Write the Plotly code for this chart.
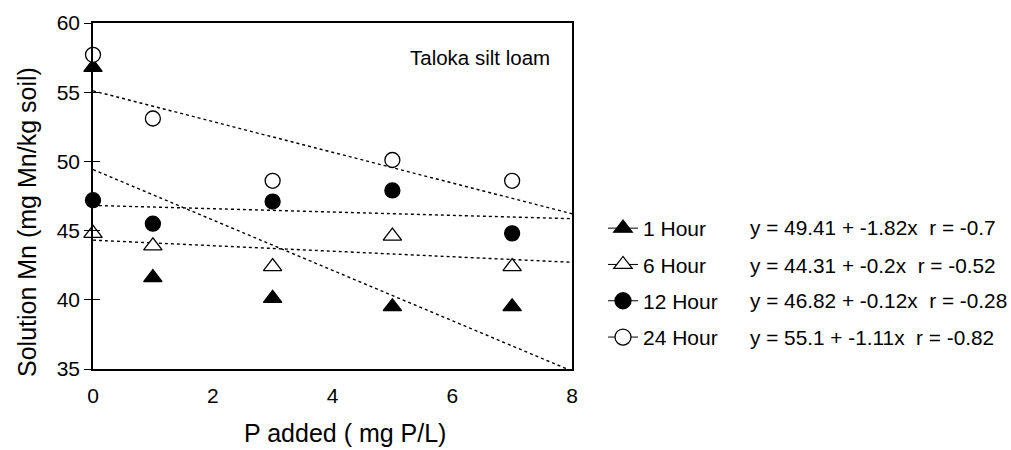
import plotly.graph_objects as go

# Phosphorus added (mg P/L)
p_added = [0, 1, 3, 5, 7]

# Solution Mn (mg Mn/kg soil) at each equilibration time
series_names = ["1 Hour", "6 Hour", "12 Hour", "24 Hour"]
mn_1h = [56.8, 41.6, 40.1, 39.5, 39.5]
mn_6h = [44.8, 43.9, 42.4, 44.6, 42.4]
mn_12h = [47.2, 45.5, 47.1, 47.9, 44.8]
mn_24h = [57.7, 53.1, 48.6, 50.1, 48.6]
series_values = [mn_1h, mn_6h, mn_12h, mn_24h]

# Linear fits y = a + b*x with correlation r
intercepts = [49.41, 44.31, 46.82, 55.1]
slopes = [-1.82, -0.2, -0.12, -1.11]
r_values = [-0.7, -0.52, -0.28, -0.82]

x_range = [0, 8]
y_range = [35, 60]
x_ticks = [0, 2, 4, 6, 8]
y_ticks = [35, 40, 45, 50, 55, 60]

FONT = "Arial, Liberation Sans, Helvetica, sans-serif"
W, H = 1011, 450
ML, MR, MT, MB = 93, 439, 23, 81
PW, PH = W - ML - MR, H - MT - MB

symbols = ["triangle-up", "triangle-up", "circle", "circle"]
fills = ["black", "white", "black", "white"]
sizes = [16, 16, 15, 15]


def px_to_paper(px, py):
    return (px - ML) / PW, (H - MB - py) / PH


fig = go.Figure()

# dotted regression lines across the full x range
for a, b in zip(intercepts, slopes):
    fig.add_trace(go.Scatter(
        x=x_range, y=[a + b * x for x in x_range],
        mode="lines", line=dict(color="black", width=1.4, dash="dot"),
        showlegend=False, hoverinfo="skip",
    ))

# measured points
for name, vals, sym, fill, sz in zip(series_names, series_values, symbols, fills, sizes):
    fig.add_trace(go.Scatter(
        x=p_added, y=vals, mode="markers", name=name, showlegend=False,
        cliponaxis=False,
        marker=dict(symbol=sym, size=sz, color=fill, line=dict(color="black", width=1.3)),
    ))

# legend entries: short line through the symbol
for i, (name, sym, fill) in enumerate(zip(series_names, symbols, fills)):
    fig.add_trace(go.Scatter(
        x=[None], y=[None], mode="lines+markers", name=name,
        legendgroup=f"g{i}",
        line=dict(color="black", width=1),
        marker=dict(symbol=sym, size=16, color=fill, line=dict(color="black", width=1.3)),
    ))

# overlay axis that supplies the inner half of the crossing y ticks
fig.add_trace(go.Scatter(x=[None], y=[None], yaxis="y2", showlegend=False, hoverinfo="skip"))

annotations = []

# fit equations beside the legend rows
row_y = [228, 265, 300, 337]
for a, b, r, py in zip(intercepts, slopes, r_values, row_y):
    text = f"y = {a:g} + {b:g}x\u00a0 r = {r:g}"
    xp, yp = px_to_paper(748, py)
    annotations.append(dict(
        x=xp, y=yp, xref="paper", yref="paper", text=text, showarrow=False,
        xanchor="left", yanchor="middle", font=dict(family=FONT, size=20.8, color="black"),
    ))

# soil label
annotations.append(dict(
    x=7.66, y=57.5, xref="x", yref="y", text="Taloka silt loam", showarrow=False,
    xanchor="right", yanchor="middle", font=dict(family=FONT, size=20.5, color="black"),
))

# axis titles
xp, yp = px_to_paper(345, 433)
annotations.append(dict(
    x=xp, y=yp, xref="paper", yref="paper", text="P added ( mg P/L)", showarrow=False,
    xanchor="center", yanchor="middle", font=dict(family=FONT, size=25, color="black"),
))
xp, yp = px_to_paper(27, 222)
annotations.append(dict(
    x=xp, y=yp, xref="paper", yref="paper", text="Solution Mn (mg Mn/kg soil)",
    showarrow=False, textangle=-90,
    xanchor="center", yanchor="middle", font=dict(family=FONT, size=25, color="black"),
))

fig.update_layout(
    width=W, height=H,
    margin=dict(l=ML, r=MR, t=MT, b=MB, pad=0),
    paper_bgcolor="white", plot_bgcolor="white",
    font=dict(family=FONT, size=20, color="black"),
    xaxis=dict(
        range=x_range, tickvals=x_ticks, showgrid=False, zeroline=False,
        showline=True, linecolor="black", linewidth=1.5, mirror=True,
        ticks="outside", ticklen=7, tickcolor="rgba(0,0,0,0)",
        tickfont=dict(family=FONT, size=21, color="black"),
    ),
    yaxis=dict(
        range=y_range, tickvals=y_ticks, showgrid=False, zeroline=False,
        showline=True, linecolor="black", linewidth=1.5, mirror=True,
        ticks="outside", ticklen=7, tickcolor="black", tickwidth=1,
        tickfont=dict(family=FONT, size=21, color="black"),
    ),
    yaxis2=dict(
        range=y_range, tickvals=y_ticks, overlaying="y", anchor="x", side="left",
        showgrid=False, zeroline=False, showline=False, showticklabels=False,
        ticks="inside", ticklen=7, tickcolor="black", tickwidth=1,
    ),
    legend=dict(
        x=(603 - ML) / PW, y=(H - MB - 208) / PH, xanchor="left", yanchor="top",
        font=dict(family=FONT, size=21, color="black"),
        tracegroupgap=6, bgcolor="rgba(0,0,0,0)", itemwidth=30,
    ),
    annotations=annotations,
    showlegend=True,
)

fig.write_html("out.html")
